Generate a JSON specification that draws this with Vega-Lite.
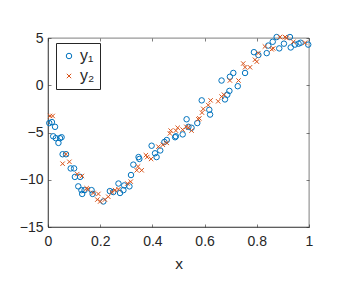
{
 "$schema": "https://vega.github.io/schema/vega-lite/v6.json",
 "width": 261, "height": 189,
 "autosize": {"type": "none"},
 "padding": {"left": 48, "top": 38, "right": 37, "bottom": 62},
 "config": {
  "font": "Liberation Sans",
  "view": {"stroke": "#262626", "strokeWidth": 0.6},
  "axis": {"grid": false, "domainColor": "#262626", "domainWidth": 0.6, "tickColor": "#262626", "tickWidth": 0.6, "tickSize": -3,
           "labelFont": "Liberation Sans", "labelFontSize": 14, "labelColor": "#262626", "titleFont": "Liberation Sans", "titleFontSize": 15.5, "titleFontWeight": "normal", "titleColor": "#262626"}
 },
 "data": {"values": [
  {"x":0.005,"y":-4.0,"s":"y₁"},{"x":0.015,"y":-3.9,"s":"y₁"},{"x":0.027,"y":-4.4,"s":"y₁"},{"x":0.02,"y":-5.4,"s":"y₁"},{"x":0.03,"y":-5.6,"s":"y₁"},{"x":0.046,"y":-5.6,"s":"y₁"},{"x":0.052,"y":-5.5,"s":"y₁"},{"x":0.04,"y":-6.1,"s":"y₁"},{"x":0.056,"y":-7.3,"s":"y₁"},{"x":0.069,"y":-7.3,"s":"y₁"},
  {"x":0.087,"y":-8.8,"s":"y₁"},{"x":0.1,"y":-8.8,"s":"y₁"},{"x":0.103,"y":-9.7,"s":"y₁"},{"x":0.123,"y":-9.7,"s":"y₁"},{"x":0.116,"y":-10.7,"s":"y₁"},{"x":0.128,"y":-11.1,"s":"y₁"},{"x":0.14,"y":-11.1,"s":"y₁"},{"x":0.131,"y":-11.5,"s":"y₁"},{"x":0.167,"y":-11.1,"s":"y₁"},{"x":0.171,"y":-11.5,"s":"y₁"},
  {"x":0.212,"y":-12.3,"s":"y₁"},{"x":0.237,"y":-11.2,"s":"y₁"},{"x":0.25,"y":-11.3,"s":"y₁"},{"x":0.27,"y":-10.4,"s":"y₁"},{"x":0.289,"y":-11.1,"s":"y₁"},{"x":0.276,"y":-11.4,"s":"y₁"},{"x":0.292,"y":-10.6,"s":"y₁"},{"x":0.312,"y":-10.7,"s":"y₁"},{"x":0.318,"y":-9.5,"s":"y₁"},{"x":0.327,"y":-8.4,"s":"y₁"},
  {"x":0.347,"y":-7.6,"s":"y₁"},{"x":0.35,"y":-7.8,"s":"y₁"},{"x":0.397,"y":-6.4,"s":"y₁"},{"x":0.41,"y":-7.2,"s":"y₁"},{"x":0.416,"y":-7.6,"s":"y₁"},{"x":0.43,"y":-6.9,"s":"y₁"},{"x":0.446,"y":-6.0,"s":"y₁"},{"x":0.455,"y":-5.8,"s":"y₁"},{"x":0.49,"y":-5.4,"s":"y₁"},{"x":0.487,"y":-5.5,"s":"y₁"},
  {"x":0.516,"y":-5.2,"s":"y₁"},{"x":0.531,"y":-3.6,"s":"y₁"},{"x":0.538,"y":-4.4,"s":"y₁"},{"x":0.55,"y":-4.5,"s":"y₁"},{"x":0.572,"y":-4.0,"s":"y₁"},{"x":0.589,"y":-1.6,"s":"y₁"},{"x":0.618,"y":-2.6,"s":"y₁"},{"x":0.621,"y":-3.1,"s":"y₁"},{"x":0.665,"y":0.5,"s":"y₁"},{"x":0.678,"y":-1.5,"s":"y₁"},
  {"x":0.687,"y":-1.0,"s":"y₁"},{"x":0.695,"y":-0.6,"s":"y₁"},{"x":0.697,"y":0.9,"s":"y₁"},{"x":0.71,"y":1.3,"s":"y₁"},{"x":0.727,"y":-0.1,"s":"y₁"},{"x":0.755,"y":1.3,"s":"y₁"},{"x":0.789,"y":3.5,"s":"y₁"},{"x":0.806,"y":3.2,"s":"y₁"},{"x":0.838,"y":3.4,"s":"y₁"},{"x":0.844,"y":4.2,"s":"y₁"},
  {"x":0.861,"y":4.6,"s":"y₁"},{"x":0.876,"y":5.1,"s":"y₁"},{"x":0.886,"y":3.9,"s":"y₁"},{"x":0.904,"y":4.4,"s":"y₁"},{"x":0.927,"y":5.1,"s":"y₁"},{"x":0.93,"y":4.0,"s":"y₁"},{"x":0.946,"y":4.3,"s":"y₁"},{"x":0.96,"y":4.4,"s":"y₁"},{"x":0.968,"y":4.5,"s":"y₁"},{"x":0.997,"y":4.3,"s":"y₁"},
  {"x":0.008,"y":-3.25,"s":"y₂"},{"x":0.018,"y":-3.25,"s":"y₂"},{"x":0.056,"y":-8.3,"s":"y₂"},{"x":0.069,"y":-7.3,"s":"y₂"},{"x":0.082,"y":-8.1,"s":"y₂"},{"x":0.112,"y":-9.4,"s":"y₂"},{"x":0.13,"y":-9.6,"s":"y₂"},{"x":0.148,"y":-10.9,"s":"y₂"},{"x":0.152,"y":-11.0,"s":"y₂"},{"x":0.174,"y":-11.4,"s":"y₂"},
  {"x":0.193,"y":-11.5,"s":"y₂"},{"x":0.189,"y":-12.1,"s":"y₂"},{"x":0.2,"y":-12.3,"s":"y₂"},{"x":0.218,"y":-12.1,"s":"y₂"},{"x":0.231,"y":-11.8,"s":"y₂"},{"x":0.244,"y":-11.3,"s":"y₂"},{"x":0.257,"y":-11.1,"s":"y₂"},{"x":0.27,"y":-11.0,"s":"y₂"},{"x":0.304,"y":-10.4,"s":"y₂"},{"x":0.317,"y":-10.2,"s":"y₂"},
  {"x":0.34,"y":-9.0,"s":"y₂"},{"x":0.345,"y":-8.6,"s":"y₂"},{"x":0.359,"y":-9.0,"s":"y₂"},{"x":0.38,"y":-7.6,"s":"y₂"},{"x":0.375,"y":-7.4,"s":"y₂"},{"x":0.395,"y":-7.8,"s":"y₂"},{"x":0.423,"y":-6.5,"s":"y₂"},{"x":0.44,"y":-6.3,"s":"y₂"},{"x":0.455,"y":-6.1,"s":"y₂"},{"x":0.467,"y":-5.1,"s":"y₂"},
  {"x":0.47,"y":-4.8,"s":"y₂"},{"x":0.49,"y":-4.8,"s":"y₂"},{"x":0.497,"y":-4.5,"s":"y₂"},{"x":0.516,"y":-4.7,"s":"y₂"},{"x":0.53,"y":-4.4,"s":"y₂"},{"x":0.538,"y":-4.5,"s":"y₂"},{"x":0.55,"y":-4.8,"s":"y₂"},{"x":0.576,"y":-3.6,"s":"y₂"},{"x":0.58,"y":-3.5,"s":"y₂"},{"x":0.59,"y":-2.9,"s":"y₂"},
  {"x":0.595,"y":-2.5,"s":"y₂"},{"x":0.614,"y":-2.1,"s":"y₂"},{"x":0.623,"y":-1.6,"s":"y₂"},{"x":0.652,"y":-1.7,"s":"y₂"},{"x":0.665,"y":-1.2,"s":"y₂"},{"x":0.674,"y":-1.0,"s":"y₂"},{"x":0.697,"y":0.5,"s":"y₂"},{"x":0.73,"y":0.5,"s":"y₂"},{"x":0.748,"y":2.3,"s":"y₂"},{"x":0.755,"y":1.9,"s":"y₂"},
  {"x":0.774,"y":1.9,"s":"y₂"},{"x":0.793,"y":2.7,"s":"y₂"},{"x":0.8,"y":2.5,"s":"y₂"},{"x":0.806,"y":3.4,"s":"y₂"},{"x":0.831,"y":4.1,"s":"y₂"},{"x":0.857,"y":3.8,"s":"y₂"},{"x":0.863,"y":3.9,"s":"y₂"},{"x":0.889,"y":5.1,"s":"y₂"},{"x":0.908,"y":5.1,"s":"y₂"},{"x":0.914,"y":5.0,"s":"y₂"},
  {"x":0.94,"y":4.6,"s":"y₂"},{"x":0.985,"y":4.5,"s":"y₂"}
 ]},
 "layer": [
  {
   "mark": {"type": "point", "filled": false, "strokeWidth": 1, "size": 30, "opacity": 1},
   "encoding": {
    "x": {"field": "x", "type": "quantitative", "scale": {"domain": [0, 1], "nice": false}, "axis": {"values": [0, 0.2, 0.4, 0.6, 0.8, 1], "format": "~g", "title": "x", "labelPadding": 10, "titlePadding": 8, "labelFlush": false}},
    "y": {"field": "y", "type": "quantitative", "scale": {"domain": [-15, 5], "nice": false}, "axis": {"values": [-15, -10, -5, 0, 5], "title": null, "labelPadding": 8, "labelFlush": false}},
    "color": {"field": "s", "type": "nominal", "scale": {"domain": ["y₁", "y₂"], "range": ["#0072BD", "#D95319"]},
     "legend": {"title": null, "orient": "none", "legendX": 8, "legendY": 5, "strokeColor": "#262626", "fillColor": "white", "padding": 5, "labelFontSize": 16, "labelColor": "#262626", "symbolSize": 30, "symbolStrokeWidth": 1, "rowPadding": 4, "labelOffset": 3}},
    "shape": {"field": "s", "type": "nominal", "scale": {"domain": ["y₁", "y₂"], "range": ["circle", "M-0.8,-0.8L0.8,0.8M0.8,-0.8L-0.8,0.8"]}, "legend": null}
   }
  },
  {
   "mark": {"type": "point", "opacity": 0},
   "encoding": {
    "x": {"field": "x", "type": "quantitative", "scale": {"domain": [0, 1], "nice": false}, "axis": {"orient": "top", "values": [0, 0.2, 0.4, 0.6, 0.8, 1], "labels": false, "title": null, "domain": false}},
    "y": {"field": "y", "type": "quantitative", "scale": {"domain": [-15, 5], "nice": false}, "axis": {"orient": "right", "values": [-15, -10, -5, 0, 5], "labels": false, "title": null, "domain": false}}
   }
  }
 ],
 "resolve": {"axis": {"x": "independent", "y": "independent"}}
}
